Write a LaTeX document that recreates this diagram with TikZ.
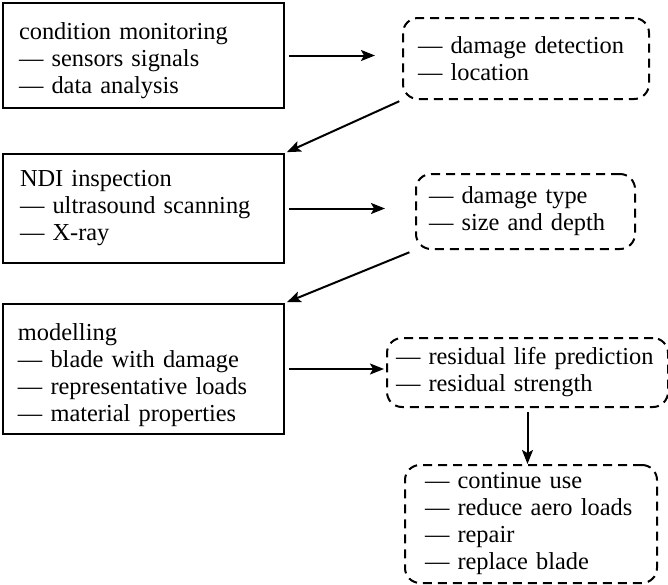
\documentclass[tikz,border=0pt]{standalone}
\usepackage{fontspec}
\setmainfont{Liberation Serif}
\usetikzlibrary{arrows.meta,positioning}
\tikzset
{
    solidbox/.style  = {rectangle, draw=black, line width=1pt, align=left, anchor=north west, font=\fontsize{12.2pt}{13.5pt}\selectfont},
    dashbox/.style   = {rectangle, rounded corners=7.5pt, draw=black, line width=1pt, dash pattern=on 4.5pt off 3pt, align=left, anchor=north west, font=\fontsize{12.2pt}{13.5pt}\selectfont},
    arrow/.style     = {line width=1pt, ->, >={Stealth[length=7pt,width=5.5pt,inset=1.5pt]}},
}

\begin{document}
\begin{tikzpicture}[x=1pt, y=1pt]
   \useasboundingbox (0,0) rectangle (334,-292);

   \node (cond) [solidbox, minimum width=140.5pt, minimum height=52.5pt, inner xsep=8pt, text width=124.5pt, text height=13.6pt]   at (1, -1)       {condition monitoring\\— sensors signals\\— data analysis};
   \node (ndi)  [solidbox, minimum width=140.5pt, minimum height=54.5pt, inner xsep=8.5pt, text width=123.5pt] at (1, -76.5)    {NDI inspection\\— ultrasound scanning\\— X-ray};
   \node (mod)  [solidbox, minimum width=140.5pt, minimum height=65pt, inner xsep=7.5pt, text width=125.5pt, text height=14.6pt]   at (1, -151.5)   {modelling\\— blade with damage\\— representative loads\\— material properties};

   \node (dd)   [dashbox, minimum width=123pt, minimum height=40.5pt, inner xsep=7.5pt, text width=108pt]     at (201, -8.5)   {— damage detection\\— location};
   \node (dt)   [dashbox, minimum width=109.5pt, minimum height=37.5pt, inner xsep=6.5pt, text width=96.5pt]  at (207.5, -86.5) {— damage type\\— size and depth};
   \node (rl)   [dashbox, minimum width=140.5pt, minimum height=34.5pt, inner xsep=4.5pt, text width=131.5pt] at (193, -168.5) {— residual life prediction\\— residual strength};
   \node (cu)   [dashbox, minimum width=126pt, minimum height=59pt, inner xsep=10pt, text width=106pt]        at (202, -232)   {— continue use\\— reduce aero loads\\— repair\\— replace blade};

   \path
      (cond.east)        edge[arrow, shorten <=2pt, shorten >=13.5pt]  node {} (cond.east -| dd.west)
      (dd.south west)    edge[arrow, shorten <=1.5pt, shorten >=1pt]   node {} (ndi.north east)
      (ndi.east)         edge[arrow, shorten <=2pt, shorten >=15pt]    node {} (ndi.east -| dt.west)
      (dt.south west)    edge[arrow, shorten <=3pt, shorten >=1pt]     node {} (mod.north east)
      (mod.east)         edge[arrow, shorten <=2pt, shorten >=1pt]     node {} (mod.east -| rl.west)
      (rl.south)         edge[arrow, shorten <=2pt]                    node {} (rl.south |- cu.north);
\end{tikzpicture}
\end{document}
